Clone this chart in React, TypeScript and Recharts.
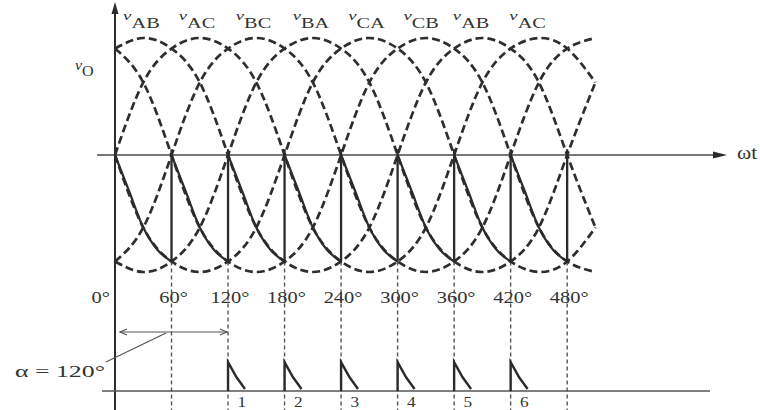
import React from 'react';
import { ComposedChart, Line, XAxis, YAxis, ReferenceLine, ReferenceDot } from 'recharts';

const W = 760;
const H = 410;
const X_DOMAIN: [number, number] = [-122.08, 684.71];
const Y_DOMAIN: [number, number] = [-2.1795, 1.3248];
const FONT = '"Liberation Serif", "DejaVu Serif", serif';
const INK = '#2b2b2b';

// sample angles (degrees) for the line voltages
const angles = [0, 30, 60, 90, 120, 150, 180, 210, 240, 270, 300, 330, 360, 390, 420, 450, 480, 510];
// line voltages (normalised to peak)
const vAB = [0.91, 1, 0.91, 0.62, 0, -0.62, -0.91, -1, -0.91, -0.62, 0, 0.62, 0.91, 1, 0.91, 0.62, 0, -0.62];
const vAC = [0, 0.62, 0.91, 1, 0.91, 0.62, 0, -0.62, -0.91, -1, -0.91, -0.62, 0, 0.62, 0.91, 1, 0.91, 0.62];
const vBC = [-0.91, -0.62, 0, 0.62, 0.91, 1, 0.91, 0.62, 0, -0.62, -0.91, -1, -0.91, -0.62, 0, 0.62, 0.91, 1];
const vBA = [-0.91, -1, -0.91, -0.62, 0, 0.62, 0.91, 1, 0.91, 0.62, 0, -0.62, -0.91, -1, -0.91, -0.62, 0, 0.62];
const vCA = [0, -0.62, -0.91, -1, -0.91, -0.62, 0, 0.62, 0.91, 1, 0.91, 0.62, 0, -0.62, -0.91, -1, -0.91, -0.62];
const vCB = [0.91, 0.62, 0, -0.62, -0.91, -1, -0.91, -0.62, 0, 0.62, 0.91, 1, 0.91, 0.62, 0, -0.62, -0.91, -1];
const phaseSeries = [
  { name: 'vAB', values: vAB },
  { name: 'vAC', values: vAC },
  { name: 'vBC', values: vBC },
  { name: 'vBA', values: vBA },
  { name: 'vCA', values: vCA },
  { name: 'vCB', values: vCB },
];

// output voltage vO: one arc per 60° interval
const arcStarts = [0, 60, 120, 180, 240, 300, 360, 420];
const arcOffsets = [0, 15, 30, 45, 60];
const arcValues = [0, -0.31, -0.62, -0.81, -0.91];
const commutationAngles = [60, 120, 180, 240, 300, 360, 420, 480];
const commutationLow = -0.91;
const commutationHigh = 0.05;

// gate pulses
const pulseStarts = [120, 180, 240, 300, 360, 420];
const pulseOffsets = [0, 0, 9, 18];
const pulseValues = [-2.017, -1.77, -1.9, -2.0];
const pulseLabels = ['1', '2', '3', '4', '5', '6'];
const pulseBase = -2.017;

// tick labels
const tickAngles = [0, 60, 120, 180, 240, 300, 360, 420, 480];
const tickLabels = ['0°', '60°', '120°', '180°', '240°', '300°', '360°', '420°', '480°'];

// phase labels along the top
const phaseLabelAngles = [28, 87, 147, 208, 267, 325, 378, 438];
const phaseLabelSubs = ['AB', 'AC', 'BC', 'BA', 'CA', 'CB', 'AB', 'AC'];

// annotation anchors (data units)
const ALPHA_ARROW = { from: 5.3, to: 118.9, v: -1.513 };
const ALPHA_LEADER = [{ x: 54.1, y: -1.521 }, { x: -9.6, y: -1.769 }];
const ALPHA_TEXT = { x: -106.2, v: -1.897 };
const VO_LABEL = { x: -42.5, v: 0.675 };
const WT_LABEL = { x: 660.3, v: -0.03 };
const ZERO_LINE = { from: -19, to: 640 };
const ARROW_X_TIP = 649.7;
const ARROW_Y_TIP = 1.308;
const AXIS_Y_TOP = 1.25;
const BASELINE = { from: -13.8, to: 631.6 };

const phaseData = (values: number[]) => angles.map((x, i) => ({ x, v: values[i] }));
const arcData = arcStarts.flatMap((s) => [
  ...arcOffsets.map((o, i) => ({ x: s + o, v: arcValues[i] as number | null })),
  { x: s + 60, v: null },
]);
const verticalData = commutationAngles.flatMap((a) => [
  { x: a, v: commutationLow as number | null },
  { x: a, v: commutationHigh },
  { x: a, v: null },
]);
const pulseData = pulseStarts.flatMap((s) => [
  ...pulseOffsets.map((o, i) => ({ x: s + o, v: pulseValues[i] as number | null })),
  { x: s + 18, v: null },
]);
const baselineData = [
  { x: BASELINE.from, v: pulseBase },
  { x: BASELINE.to, v: pulseBase },
];

const textShape =
  (content: React.ReactNode, opts: { anchor?: string; size?: number; sx?: number; len?: number } = {}) =>
  (p: any) => (
    <g transform={`translate(${p.cx},${p.cy}) scale(${opts.sx ?? 1},1)`}>
      <text
        x={0}
        y={0}
        textAnchor={(opts.anchor as any) ?? 'middle'}
        fontFamily={FONT}
        fontSize={opts.size ?? 16}
        fill="#333"
        textLength={opts.len}
        lengthAdjust={opts.len ? 'spacingAndGlyphs' : undefined}
      >
        {content}
      </text>
    </g>
  );

const triShape = (pts: string) => (p: any) => (
  <polygon points={pts} transform={`translate(${p.cx},${p.cy})`} fill={INK} />
);
const openArrow = (dir: number) => (p: any) => (
  <polyline
    points={`${dir * 7},-3 0,0 ${dir * 7},3`}
    transform={`translate(${p.cx},${p.cy})`}
    fill="none"
    stroke="#555"
    strokeWidth={1.2}
  />
);

export default function App() {
  return (
    <div style={{ position: 'absolute', left: 0, top: 0, width: W, height: H, background: '#fff' }}>
      <ComposedChart width={W} height={H} margin={{ top: 0, right: 0, bottom: 0, left: 0 }}>
        <XAxis dataKey="x" type="number" domain={X_DOMAIN} allowDataOverflow hide />
        <YAxis type="number" domain={Y_DOMAIN} allowDataOverflow hide />

        {/* dashed vertical guides */}
        {commutationAngles.map((a) => (
          <ReferenceLine
            key={`g${a}`}
            segment={[{ x: a, y: commutationLow }, { x: a, y: Y_DOMAIN[0] }]}
            stroke="#555"
            strokeWidth={1.4}
            strokeDasharray="4 3"
            ifOverflow="visible"
          />
        ))}

        {/* axes */}
        <ReferenceLine
          segment={[{ x: ZERO_LINE.from, y: 0 }, { x: ZERO_LINE.to, y: 0 }]}
          stroke="#4a4a4a"
          strokeWidth={1.3}
          ifOverflow="visible"
        />
        <ReferenceLine
          segment={[{ x: 0, y: Y_DOMAIN[0] }, { x: 0, y: AXIS_Y_TOP }]}
          stroke={INK}
          strokeWidth={2}
          ifOverflow="visible"
        />
        <ReferenceDot x={ARROW_X_TIP} y={0} r={1} ifOverflow="visible" shape={triShape('0,0 -14,-3.5 -14,3.5')} />
        <ReferenceDot x={0} y={ARROW_Y_TIP} r={1} ifOverflow="visible" shape={triShape('0,0 -3.5,12 3.5,12')} />

        {/* pulse baseline */}
        <Line data={baselineData} dataKey="v" type="linear" stroke="#555" strokeWidth={1.4} dot={false} activeDot={false} isAnimationActive={false} />

        {/* line voltages */}
        {phaseSeries.map((s) => (
          <Line
            key={s.name}
            data={phaseData(s.values)}
            dataKey="v"
            type="natural"
            stroke="#2e2e2e"
            strokeWidth={2.7}
            strokeDasharray="8 4"
            dot={false}
            activeDot={false}
            isAnimationActive={false}
          />
        ))}

        {/* output voltage */}
        <Line data={arcData} dataKey="v" type="monotone" stroke={INK} strokeWidth={2.2} dot={false} activeDot={false} isAnimationActive={false} />
        <Line data={verticalData} dataKey="v" type="linear" stroke={INK} strokeWidth={2.3} dot={false} activeDot={false} isAnimationActive={false} />

        {/* gate pulses */}
        <Line data={pulseData} dataKey="v" type="linear" stroke={INK} strokeWidth={2.4} dot={false} activeDot={false} isAnimationActive={false} />

        {/* alpha annotation */}
        <ReferenceLine
          segment={[{ x: ALPHA_ARROW.from, y: ALPHA_ARROW.v }, { x: ALPHA_ARROW.to, y: ALPHA_ARROW.v }]}
          stroke="#555"
          strokeWidth={1.2}
          ifOverflow="visible"
        />
        <ReferenceDot x={ALPHA_ARROW.from} y={ALPHA_ARROW.v} r={1} ifOverflow="visible" shape={openArrow(1)} />
        <ReferenceDot x={ALPHA_ARROW.to} y={ALPHA_ARROW.v} r={1} ifOverflow="visible" shape={openArrow(-1)} />
        <ReferenceLine segment={ALPHA_LEADER} stroke="#555" strokeWidth={1.2} ifOverflow="visible" />
        <ReferenceDot
          x={ALPHA_TEXT.x}
          y={ALPHA_TEXT.v}
          r={1}
          ifOverflow="visible"
          shape={textShape('α = 120°', { anchor: 'start', size: 17, len: 90 })}
        />

        {/* tick labels */}
        {tickAngles.map((a, i) => (
          <ReferenceDot
            key={`t${a}`}
            x={i === 0 ? -5.3 : a + 2.1}
            y={-1.265}
            r={1}
            ifOverflow="visible"
            shape={textShape(tickLabels[i], { anchor: i === 0 ? 'end' : 'middle', size: 16, sx: 1.28 })}
          />
        ))}

        {/* pulse labels */}
        {pulseStarts.map((a, i) => (
          <ReferenceDot
            key={`p${a}`}
            x={a + 14.5}
            y={-2.154}
            r={1}
            ifOverflow="visible"
            shape={textShape(pulseLabels[i], { size: 15, sx: 1.15 })}
          />
        ))}

        {/* phase labels */}
        {phaseLabelAngles.map((a, i) => (
          <ReferenceDot
            key={`l${i}`}
            x={a}
            y={1.085}
            r={1}
            ifOverflow="visible"
            shape={textShape(
              <>
                <tspan fontStyle="italic" fontSize={13} dy={-8}>v</tspan>
                <tspan fontSize={14} dy={8}>{phaseLabelSubs[i]}</tspan>
              </>,
              { size: 14, sx: 1.45 }
            )}
          />
        ))}

        {/* vO and ωt labels */}
        <ReferenceDot
          x={VO_LABEL.x}
          y={VO_LABEL.v}
          r={1}
          ifOverflow="visible"
          shape={textShape(
            <>
              <tspan fontStyle="italic" fontSize={14} dy={-6}>v</tspan>
              <tspan fontSize={14} dy={6}>O</tspan>
            </>,
            { anchor: 'start', size: 14, sx: 1.15 }
          )}
        />
        <ReferenceDot
          x={WT_LABEL.x}
          y={WT_LABEL.v}
          r={1}
          ifOverflow="visible"
          shape={textShape('ωt', { anchor: 'start', size: 18, sx: 1.2 })}
        />
      </ComposedChart>
    </div>
  );
}
